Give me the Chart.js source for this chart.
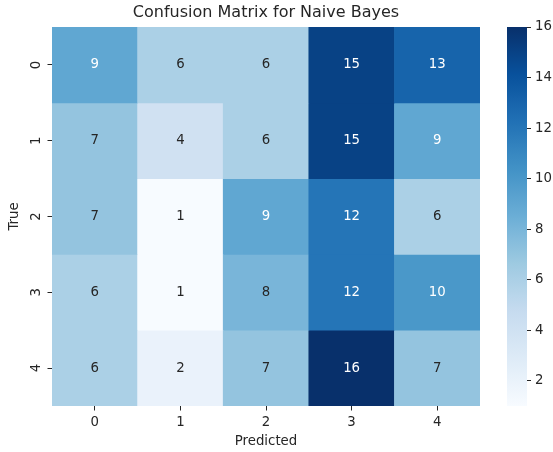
<!DOCTYPE html>
<html>
<head>
<meta charset="utf-8">
<script src="https://cdn.jsdelivr.net/npm/chart.js@4/dist/chart.umd.min.js"></script>
<style>
  html, body { margin: 0; padding: 0; background: #ffffff; }
  #wrap { position: relative; width: 553px; height: 452px; overflow: hidden; }
  canvas { position: absolute; top: 0; }
  #heat { left: 0; }
  #cbar { left: 480px; }
</style>
</head>
<body>
<div id="wrap">
  <canvas id="heat" width="532" height="452"></canvas>
  <canvas id="cbar" width="73" height="452"></canvas>
</div>
<script>
// Confusion matrix: rows = true class, columns = predicted class
const predictedLabels = ['0', '1', '2', '3', '4'];
const trueLabels = ['0', '1', '2', '3', '4'];
const trueRow0 = [9, 6, 6, 15, 13];
const trueRow1 = [7, 4, 6, 15, 9];
const trueRow2 = [7, 1, 9, 12, 6];
const trueRow3 = [6, 1, 8, 12, 10];
const trueRow4 = [6, 2, 7, 16, 7];
const matrix = [trueRow0, trueRow1, trueRow2, trueRow3, trueRow4];
const colorbarTicks = [2, 4, 6, 8, 10, 12, 14, 16];
const chartTitle = 'Confusion Matrix for Naive Bayes';

const allValues = matrix.flat();
const vmin = Math.min(...allValues);
const vmax = Math.max(...allValues);

// "Blues" sequential colour ramp
const BLUES = ['#f7fbff', '#deebf7', '#c6dbef', '#9ecae1', '#6baed6',
               '#4292c6', '#2171b5', '#08519c', '#08306b'];
function hexToRgb(h) {
  return [parseInt(h.slice(1, 3), 16), parseInt(h.slice(3, 5), 16), parseInt(h.slice(5, 7), 16)];
}
const BLUES_RGB = BLUES.map(hexToRgb);
function bluesRgb(t) {
  t = Math.max(0, Math.min(1, t));
  const pos = t * (BLUES_RGB.length - 1);
  const i = Math.min(Math.floor(pos), BLUES_RGB.length - 2);
  const f = pos - i;
  const a = BLUES_RGB[i], b = BLUES_RGB[i + 1];
  return [0, 1, 2].map(k => a[k] + (b[k] - a[k]) * f);
}
function rgbStr(c) { return `rgb(${Math.round(c[0])},${Math.round(c[1])},${Math.round(c[2])})`; }
function colorFor(v) { return rgbStr(bluesRgb((v - vmin) / (vmax - vmin))); }
function luminance(c) {
  const lin = c.map(x => { x /= 255; return x <= 0.03928 ? x / 12.92 : Math.pow((x + 0.055) / 1.055, 2.4); });
  return 0.2126 * lin[0] + 0.7152 * lin[1] + 0.0722 * lin[2];
}
function textColorFor(v) {
  return luminance(bluesRgb((v - vmin) / (vmax - vmin))) > 0.408 ? 'rgb(38,38,38)' : '#ffffff';
}

const FONT = "'DejaVu Sans', 'Liberation Sans', sans-serif";
const TEXT = '#262626';
const LABEL_SIZE = 13.3;
const TITLE_SIZE = 16;
Chart.defaults.font.family = FONT;
Chart.defaults.color = TEXT;

// Each true-class row is a dataset of floating bars spanning [row, row + 1]
const datasets = matrix.map((row, i) => ({
  label: 'True ' + trueLabels[i],
  data: row.map(() => [i, i + 1]),
  backgroundColor: row.map(colorFor),
  borderWidth: 0,
  grouped: false,
  barPercentage: 1,
  categoryPercentage: 1
}));

// Title, cell annotations and rotated row labels
const cellText = {
  id: 'cellText',
  afterDatasetsDraw(chart) {
    const { ctx, chartArea, scales: { x, y } } = chart;
    ctx.save();
    ctx.textAlign = 'center';
    ctx.textBaseline = 'middle';
    ctx.fillStyle = TEXT;
    ctx.font = `${TITLE_SIZE}px ${FONT}`;
    ctx.fillText(chartTitle, (chartArea.left + chartArea.right) / 2, 13);

    ctx.font = `${LABEL_SIZE}px ${FONT}`;
    matrix.forEach((row, i) => {
      row.forEach((v, j) => {
        ctx.fillStyle = textColorFor(v);
        ctx.fillText(String(v), x.getPixelForValue(j), y.getPixelForValue(i + 0.5));
      });
    });
    ctx.fillStyle = TEXT;
    trueLabels.forEach((lab, i) => {
      ctx.save();
      ctx.translate(y.left + y.width - 15, y.getPixelForValue(i + 0.5));
      ctx.rotate(-Math.PI / 2);
      ctx.fillText(lab, 0, 0);
      ctx.restore();
    });
    ctx.restore();
  }
};

new Chart(document.getElementById('heat'), {
  type: 'bar',
  data: { labels: predictedLabels, datasets },
  plugins: [cellText],
  options: {
    responsive: false,
    animation: false,
    layout: { padding: { top: 27, right: 52, bottom: 0, left: 0 } },
    plugins: {
      legend: { display: false },
      tooltip: { enabled: false },
      title: { display: false }
    },
    scales: {
      x: {
        type: 'category',
        offset: true,
        border: { display: false },
        grid: { drawOnChartArea: false, drawTicks: true, tickLength: 4.5, tickColor: TEXT, tickWidth: 1, offset: false },
        ticks: { color: TEXT, font: { size: LABEL_SIZE }, padding: 4, maxRotation: 0 },
        title: { display: true, text: 'Predicted', color: TEXT, font: { size: LABEL_SIZE }, padding: { top: 0, bottom: 2 } },
        afterFit(s) { s.height = 46; }
      },
      y: {
        type: 'linear',
        min: 0,
        max: trueLabels.length,
        reverse: true,
        border: { display: false },
        grid: { drawOnChartArea: false, drawTicks: true, tickLength: 4.5, tickColor: TEXT, tickWidth: 1 },
        ticks: { display: false },
        afterBuildTicks(s) { s.ticks = trueLabels.map((_, i) => ({ value: i + 0.5 })); },
        title: { display: true, text: 'True', color: TEXT, font: { size: LABEL_SIZE }, padding: { top: 7, bottom: 0 } },
        afterFit(s) { s.width = 52; }
      }
    }
  }
});

// Colour bar: a single floating bar from vmin to vmax filled with the ramp
function rampGradient(ctx) {
  const chart = ctx.chart;
  const area = chart.chartArea;
  if (!area) return colorFor(vmax);
  const y = chart.scales.y;
  const g = chart.ctx.createLinearGradient(0, y.getPixelForValue(vmin), 0, y.getPixelForValue(vmax));
  for (let k = 0; k <= 32; k++) {
    const t = k / 32;
    g.addColorStop(t, rgbStr(bluesRgb(t)));
  }
  return g;
}

new Chart(document.getElementById('cbar'), {
  type: 'bar',
  data: {
    labels: ['scale'],
    datasets: [{ data: [[vmin, vmax]], backgroundColor: rampGradient, borderWidth: 0, barPercentage: 1, categoryPercentage: 1 }]
  },
  options: {
    responsive: false,
    animation: false,
    layout: { padding: { top: 27, right: 0, bottom: 46, left: 27 } },
    plugins: { legend: { display: false }, tooltip: { enabled: false } },
    scales: {
      x: { display: false, offset: true },
      y: {
        type: 'linear',
        position: 'right',
        min: vmin,
        max: vmax,
        border: { display: false },
        grid: { drawOnChartArea: false, drawTicks: true, tickLength: 4, tickColor: TEXT, tickWidth: 1 },
        ticks: { color: TEXT, font: { size: LABEL_SIZE }, padding: 4 },
        afterBuildTicks(s) { s.ticks = colorbarTicks.map(v => ({ value: v })); },
        afterFit(s) { s.width = 26; }
      }
    }
  }
});
</script>
</body>
</html>
